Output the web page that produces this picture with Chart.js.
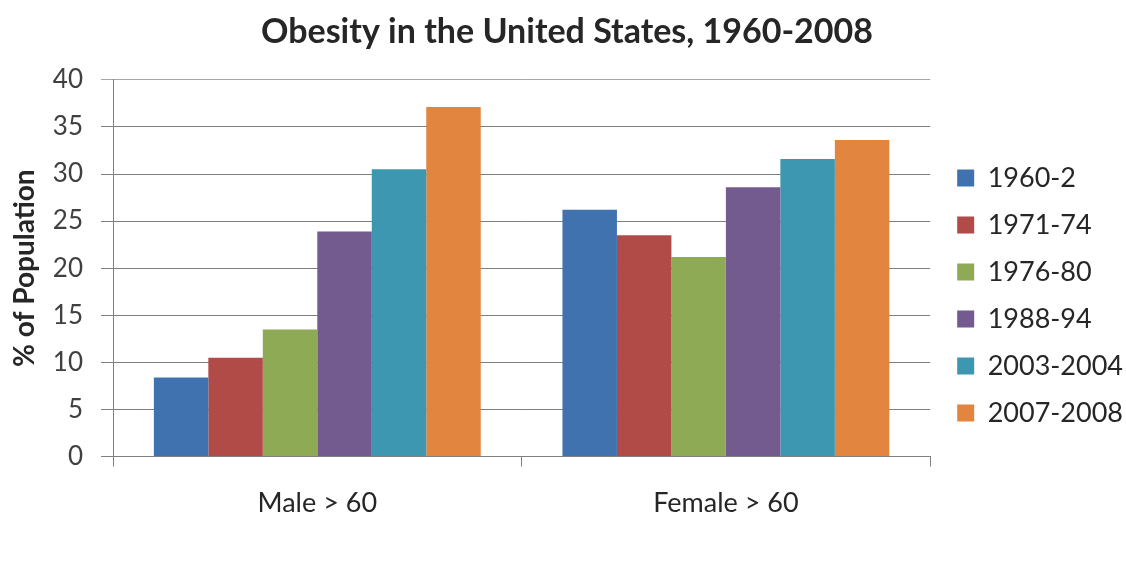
<!DOCTYPE html>
<html>
<head>
<meta charset="utf-8">
<script src="https://cdn.jsdelivr.net/npm/chart.js@4"></script>
<style>
  html, body { margin: 0; padding: 0; background: #ffffff; }
  #wrap { width: 1126px; height: 564px; }
</style>
</head>
<body>
<div id="wrap"><canvas id="c" width="1126" height="564"></canvas></div>
<script>
const categories = ["Male > 60", "Female > 60"];
const seriesNames = ["1960-2", "1971-74", "1976-80", "1988-94", "2003-2004", "2007-2008"];
const v1960 = [8.4, 26.2];
const v1971 = [10.5, 23.5];
const v1976 = [13.5, 21.2];
const v1988 = [23.9, 28.6];
const v2003 = [30.5, 31.6];
const v2007 = [37.1, 33.6];
const seriesValues = [v1960, v1971, v1976, v1988, v2003, v2007];
const seriesColors = ["#3F72AF", "#B04B48", "#8FAA55", "#745B8F", "#3D97B0", "#E1853F"];
const yTicks = [0, 5, 10, 15, 20, 25, 30, 35, 40];

const FONT = "Lato, 'Open Sans', 'DejaVu Sans', sans-serif";

const legendShift = {
  id: 'legendShift',
  afterLayout(chart) {
    const lg = chart.legend;
    if (lg) {
      lg.top += 20; lg.bottom += 20;
      lg.left += 7; lg.right += 7;
    }
  }
};

new Chart(document.getElementById('c'), {
  type: 'bar',
  data: {
    labels: categories,
    datasets: seriesNames.map((n, i) => ({
      label: n,
      data: seriesValues[i],
      backgroundColor: seriesColors[i],
      borderWidth: 0,
      categoryPercentage: 0.8,
      barPercentage: 1.0
    }))
  },
  options: {
    responsive: false,
    animation: false,
    devicePixelRatio: 1,
    layout: { padding: { left: 8, right: 0, top: 12, bottom: 25 } },
    plugins: {
      title: {
        display: true,
        text: "Obesity in the United States, 1960-2008",
        font: { family: FONT, size: 34, weight: 'bold' },
        color: '#262626',
        padding: { top: 0, bottom: 27 }
      },
      legend: {
        position: 'right',
        align: 'center',
        labels: {
          font: { family: FONT, size: 27 },
          color: '#262626',
          boxWidth: 17,
          boxHeight: 17,
          padding: 20
        }
      },
      tooltip: { enabled: false }
    },
    scales: {
      x: {
        offset: true,
        grid: { display: true, drawOnChartArea: false, drawTicks: true, tickLength: 10, offset: true, color: '#808080' },
        border: { display: true, color: '#808080' },
        ticks: { font: { family: FONT, size: 27 }, color: '#262626', padding: 20 }
      },
      y: {
        min: 0,
        max: 40,
        afterBuildTicks: (scale) => { scale.ticks = yTicks.map(v => ({ value: v })); },
        afterFit: (scale) => { scale.width = 105; },
        grid: {
          color: (ctx) => (ctx.tick && ctx.tick.value === 40 ? '#a6a6a6' : '#7f7f7f'),
          lineWidth: 1, drawTicks: true, tickLength: 12
        },
        border: { display: true, color: '#808080' },
        ticks: { font: { family: FONT, size: 26 }, color: '#404040', padding: 18 },
        title: {
          display: true,
          text: '% of Population',
          font: { family: FONT, size: 28, weight: 'bold' },
          color: '#262626',
          padding: { top: 0, bottom: 0 }
        }
      }
    }
  },
  plugins: [legendShift]
});
</script>
</body>
</html>
